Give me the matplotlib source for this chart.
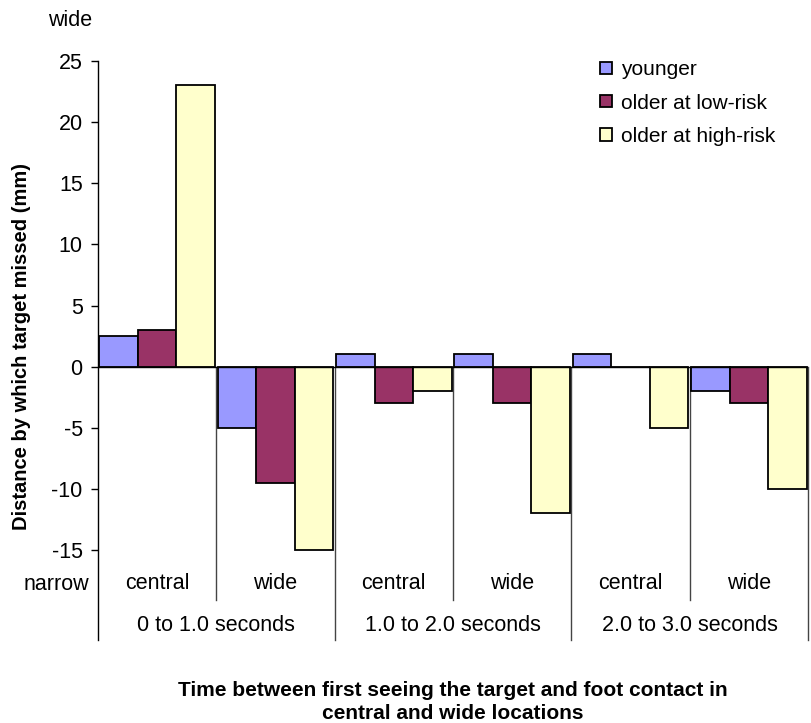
import numpy as np
import matplotlib.pyplot as plt

plt.rcParams['font.family'] = ['Liberation Sans', 'DejaVu Sans']

# data
locations = ['central', 'wide', 'central', 'wide', 'central', 'wide']
time_groups = ['0 to 1.0 seconds', '1.0 to 2.0 seconds', '2.0 to 3.0 seconds']
series_names = ['younger', 'older at low-risk', 'older at high-risk']
younger = [2.5, -5, 1, 1, 1, -2]
older_low = [3, -9.5, -3, -3, 0, -3]
older_high = [23, -15, -2, -12, -5, -10]
colors = ['#9999FF', '#993366', '#FFFFCC']
yticks = [-15, -10, -5, 0, 5, 10, 15, 20, 25]

fs = 15.5

fig = plt.figure(figsize=(8.11, 7.23), dpi=100)
ax = fig.add_axes([98 / 811, 1 - 640 / 723, 710 / 811, 579 / 723])

x = np.arange(len(locations)) + 0.5
w = 0.325
for i, (vals, name, c) in enumerate(zip([younger, older_low, older_high], series_names, colors)):
    ax.bar(x + (i - 1) * w, vals, width=w, color=c, edgecolor='black',
           linewidth=1.3, label=name, zorder=3)

ymin = -22.36
ax.set_xlim(0, len(locations))
ax.set_ylim(ymin, 25)
ax.axhline(0, color='black', lw=1, zorder=4)

# category separators
for k in range(1, len(locations) + 1):
    bottom = ymin if k % 2 == 0 else -19.1
    ax.plot([k, k], [0, bottom], color='#444444', lw=1, clip_on=False, zorder=2)

for xi, lab in zip(x, locations):
    ax.text(xi, -17.7, lab, ha='center', va='center', fontsize=fs)
for g, lab in enumerate(time_groups):
    ax.text(2 * g + 1, -21.2, lab, ha='center', va='center', fontsize=fs)

ax.set_yticks(yticks)
ax.set_yticklabels([str(t) for t in yticks], fontsize=fs)
ax.tick_params(axis='y', direction='out', length=5, width=1, pad=6)
ax.set_xticks([])
for s in ['top', 'right', 'bottom']:
    ax.spines[s].set_visible(False)
ax.spines['left'].set_linewidth(1)

fig.text(22 / 811, 1 - 347 / 723, 'Distance by which target missed (mm)',
         rotation=90, ha='center', va='center', fontsize=14.5, fontweight='bold')
fig.text(56 / 811, 1 - 584 / 723, 'narrow', ha='center', va='center', fontsize=fs)
fig.text(70 / 811, 1 - 21 / 723, 'wide', ha='center', va='center', fontsize=fs)
fig.text(453 / 811, 1 - 702 / 723,
         'Time between first seeing the target and foot contact in\ncentral and wide locations',
         ha='center', va='center', fontsize=15, fontweight='bold', linespacing=1.25)

leg = ax.legend(loc='upper left', bbox_to_anchor=(590 / 811, 1 - 50 / 723),
                bbox_transform=fig.transFigure, frameon=False, fontsize=15,
                handlelength=0.55, handleheight=0.55, handletextpad=0.45,
                labelspacing=0.68, borderpad=0)

fig.savefig('out.png', dpi=100)
